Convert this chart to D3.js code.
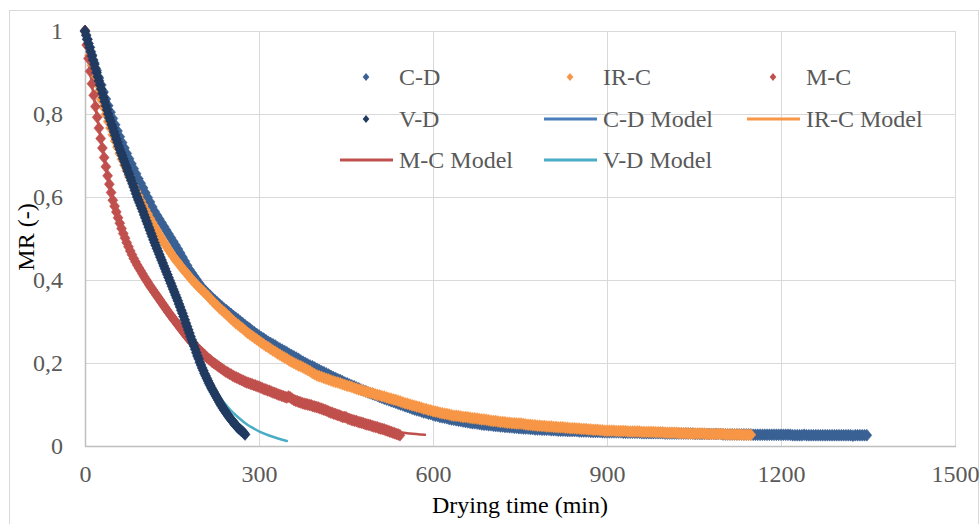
<!DOCTYPE html>
<html><head><meta charset="utf-8">
<script src="https://cdn.jsdelivr.net/npm/d3@7"></script>
<style>
body{margin:0;background:#fff;}
svg{display:block;}
text{font-family:"Liberation Serif","Times New Roman",serif;}
</style>
</head><body>
<svg id="chart" width="980" height="524"></svg>
<script>
// ---------- data ----------
const xTicks = [0, 300, 600, 900, 1200, 1500];
const yTicks = [0, 0.2, 0.4, 0.6, 0.8, 1];
const yTickLabels = ["0", "0,2", "0,4", "0,6", "0,8", "1"];
const xTitle = "Drying time (min)";
const yTitle = "MR (-)";

// C-D experimental: one reading every cdStep minutes from t = 0
const cdStep = 4;
const cdMR = [
1.000,0.980,0.961,0.942,0.923,0.905,0.887,0.870,0.853,0.836,
0.820,0.804,0.789,0.774,0.759,0.745,0.731,0.718,0.705,0.692,
0.680,0.668,0.656,0.644,0.633,0.622,0.610,0.599,0.588,0.576,
0.565,0.556,0.547,0.538,0.529,0.520,0.511,0.502,0.493,0.484,
0.475,0.465,0.455,0.445,0.435,0.425,0.417,0.409,0.401,0.393,
0.385,0.379,0.373,0.367,0.362,0.356,0.351,0.346,0.341,0.336,
0.331,0.327,0.322,0.318,0.313,0.309,0.305,0.300,0.296,0.291,
0.287,0.283,0.278,0.274,0.270,0.266,0.262,0.259,0.255,0.251,
0.248,0.245,0.242,0.238,0.235,0.232,0.229,0.226,0.222,0.219,
0.216,0.213,0.210,0.206,0.203,0.200,0.197,0.194,0.192,0.189,
0.186,0.183,0.180,0.178,0.175,0.172,0.169,0.166,0.164,0.161,
0.159,0.156,0.153,0.151,0.148,0.146,0.144,0.141,0.139,0.136,
0.134,0.132,0.129,0.127,0.125,0.123,0.121,0.118,0.116,0.114,
0.112,0.110,0.108,0.106,0.104,0.102,0.100,0.098,0.096,0.094,
0.092,0.090,0.088,0.086,0.085,0.083,0.081,0.080,0.078,0.077,
0.075,0.073,0.072,0.070,0.069,0.068,0.067,0.065,0.064,0.063,
0.062,0.061,0.060,0.059,0.058,0.057,0.056,0.055,0.055,0.054,
0.053,0.052,0.051,0.051,0.050,0.050,0.049,0.048,0.048,0.047,
0.047,0.046,0.046,0.045,0.045,0.044,0.044,0.043,0.043,0.042,
0.042,0.042,0.041,0.041,0.040,0.040,0.040,0.039,0.039,0.039,
0.039,0.038,0.038,0.038,0.037,0.037,0.037,0.037,0.036,0.036,
0.036,0.036,0.036,0.035,0.035,0.035,0.035,0.035,0.034,0.034,
0.034,0.034,0.034,0.033,0.033,0.033,0.033,0.033,0.033,0.033,
0.033,0.033,0.032,0.032,0.032,0.032,0.032,0.032,0.032,0.032,
0.031,0.031,0.031,0.031,0.031,0.031,0.031,0.031,0.031,0.031,
0.030,0.030,0.030,0.030,0.030,0.030,0.030,0.030,0.030,0.030,
0.030,0.030,0.030,0.029,0.029,0.029,0.029,0.029,0.029,0.029,
0.029,0.029,0.029,0.029,0.029,0.028,0.028,0.028,0.028,0.028,
0.028,0.028,0.028,0.028,0.028,0.028,0.028,0.028,0.027,0.027,
0.027,0.027,0.027,0.027,0.027,0.027,0.027,0.027,0.027,0.027,
0.027,0.027,0.027,0.027,0.027,0.026,0.026,0.026,0.026,0.026,
0.027,0.026,0.026,0.026,0.026,0.026,0.026,0.026,0.026,0.026,
0.026,0.026,0.026,0.026,0.026,0.026,0.026,0.026,0.026,0.026,
0.026,0.025,0.026,0.026,0.026,0.026,0.026,0.026];

// IR-C experimental
const ircStep = 4;
const ircMR = [
1.000,0.967,0.941,0.917,0.895,0.874,0.854,0.835,0.817,0.799,
0.782,0.766,0.750,0.735,0.720,0.705,0.691,0.677,0.664,0.651,
0.639,0.626,0.614,0.603,0.591,0.580,0.569,0.559,0.548,0.538,
0.528,0.519,0.509,0.500,0.491,0.482,0.473,0.465,0.457,0.449,
0.443,0.435,0.428,0.421,0.415,0.408,0.401,0.395,0.389,0.383,
0.378,0.372,0.367,0.361,0.355,0.349,0.343,0.338,0.332,0.327,
0.322,0.317,0.312,0.306,0.301,0.296,0.292,0.287,0.283,0.278,
0.273,0.269,0.265,0.261,0.257,0.253,0.249,0.245,0.241,0.238,
0.234,0.230,0.227,0.223,0.220,0.216,0.213,0.210,0.206,0.203,
0.200,0.197,0.194,0.192,0.189,0.186,0.183,0.180,0.176,0.173,
0.170,0.168,0.166,0.164,0.162,0.160,0.158,0.156,0.154,0.153,
0.151,0.149,0.147,0.145,0.144,0.142,0.140,0.138,0.136,0.135,
0.133,0.131,0.130,0.128,0.127,0.125,0.123,0.122,0.120,0.119,
0.117,0.115,0.114,0.112,0.111,0.109,0.107,0.105,0.103,0.102,
0.100,0.098,0.097,0.095,0.094,0.092,0.090,0.089,0.087,0.086,
0.084,0.083,0.082,0.080,0.079,0.078,0.077,0.076,0.074,0.073,
0.073,0.072,0.071,0.070,0.070,0.069,0.068,0.067,0.067,0.066,
0.065,0.064,0.064,0.063,0.062,0.061,0.060,0.060,0.059,0.058,
0.058,0.057,0.056,0.056,0.055,0.055,0.054,0.054,0.054,0.053,
0.052,0.051,0.051,0.050,0.050,0.049,0.049,0.048,0.048,0.047,
0.047,0.047,0.046,0.046,0.045,0.045,0.045,0.044,0.044,0.043,
0.043,0.043,0.042,0.042,0.041,0.041,0.041,0.040,0.040,0.039,
0.039,0.039,0.038,0.038,0.037,0.037,0.037,0.037,0.037,0.036,
0.036,0.036,0.036,0.036,0.035,0.035,0.035,0.035,0.035,0.035,
0.034,0.034,0.034,0.034,0.034,0.034,0.033,0.033,0.033,0.033,
0.032,0.032,0.032,0.032,0.032,0.032,0.031,0.031,0.031,0.031,
0.030,0.030,0.030,0.030,0.030,0.030,0.030,0.030,0.029,0.029,
0.029,0.029,0.029,0.029,0.029,0.029,0.028,0.028,0.028,0.028,
0.028,0.028,0.028,0.027,0.027,0.027,0.027,0.027];

// M-C experimental
const mcStep = 3;
const mcMR = [
1.000,0.966,0.934,0.903,0.873,0.845,0.818,0.792,0.766,0.741,
0.718,0.695,0.673,0.651,0.631,0.611,0.592,0.578,0.564,0.550,
0.537,0.524,0.512,0.501,0.490,0.480,0.470,0.461,0.452,0.444,
0.436,0.429,0.422,0.415,0.408,0.401,0.395,0.388,0.382,0.376,
0.370,0.364,0.358,0.352,0.346,0.340,0.334,0.328,0.322,0.316,
0.311,0.305,0.300,0.294,0.289,0.283,0.278,0.272,0.267,0.262,
0.257,0.252,0.248,0.243,0.239,0.234,0.230,0.226,0.222,0.218,
0.214,0.210,0.207,0.203,0.200,0.197,0.194,0.191,0.188,0.185,
0.182,0.179,0.177,0.174,0.172,0.169,0.167,0.165,0.163,0.161,
0.159,0.157,0.155,0.153,0.152,0.150,0.149,0.147,0.146,0.144,
0.143,0.141,0.139,0.137,0.136,0.134,0.133,0.131,0.129,0.128,
0.126,0.124,0.123,0.121,0.120,0.118,0.117,0.119,0.117,0.114,
0.111,0.109,0.108,0.106,0.105,0.103,0.102,0.101,0.100,0.099,
0.098,0.096,0.095,0.094,0.093,0.091,0.090,0.088,0.087,0.085,
0.083,0.081,0.080,0.078,0.077,0.075,0.074,0.072,0.070,0.070,
0.069,0.066,0.065,0.063,0.062,0.061,0.060,0.058,0.057,0.056,
0.055,0.053,0.052,0.051,0.050,0.048,0.047,0.046,0.045,0.043,
0.042,0.041,0.040,0.038,0.037,0.035,0.034,0.032,0.031,0.029,
0.028,0.026];

// V-D experimental
const vdStep = 2;
const vdMR = [
1.000,0.990,0.980,0.970,0.960,0.950,0.940,0.930,0.920,0.910,
0.900,0.890,0.880,0.870,0.860,0.850,0.840,0.830,0.820,0.810,
0.800,0.791,0.783,0.774,0.766,0.757,0.749,0.740,0.732,0.723,
0.715,0.707,0.700,0.692,0.685,0.677,0.670,0.662,0.655,0.647,
0.640,0.632,0.624,0.616,0.608,0.600,0.593,0.586,0.579,0.572,
0.565,0.557,0.550,0.542,0.535,0.527,0.520,0.512,0.505,0.497,
0.490,0.483,0.476,0.469,0.462,0.455,0.448,0.441,0.434,0.427,
0.420,0.413,0.406,0.399,0.392,0.385,0.378,0.371,0.364,0.357,
0.350,0.342,0.335,0.327,0.320,0.312,0.304,0.296,0.288,0.280,
0.272,0.264,0.256,0.249,0.241,0.233,0.225,0.217,0.210,0.202,
0.195,0.188,0.182,0.175,0.169,0.163,0.157,0.151,0.146,0.140,
0.135,0.130,0.125,0.120,0.115,0.110,0.105,0.100,0.096,0.091,
0.087,0.083,0.079,0.075,0.071,0.067,0.064,0.060,0.057,0.053,
0.050,0.047,0.044,0.041,0.039,0.036,0.034,0.031,0.028];

// model curves [time (min), MR]
const cdModel = [[0,1],[25,0.883],[50,0.781],[75,0.695],[100,0.622],[150,0.497],[200,0.385],[250,0.320],[300,0.266],[400,0.186],[500,0.123],[600,0.075],[700,0.050],[800,0.039],[900,0.033],[1000,0.030],[1100,0.028],[1200,0.027],[1348,0.026]];
const ircModel = [[0,1],[25,0.850],[50,0.742],[75,0.654],[100,0.580],[150,0.461],[200,0.378],[250,0.309],[300,0.253],[400,0.170],[500,0.125],[600,0.084],[700,0.061],[800,0.047],[900,0.037],[1000,0.032],[1100,0.028],[1148,0.027]];
const mcModel = [[0,1],[10,0.89],[20,0.80],[30,0.718],[40,0.645],[50,0.583],[60,0.538],[75,0.481],[90,0.436],[120,0.370],[150,0.311],[180,0.257],[210,0.214],[240,0.182],[270,0.159],[300,0.143],[350,0.115],[400,0.094],[450,0.069],[500,0.048],[520,0.040],[543,0.033],[560,0.030],[586,0.027]];
const vdModel = [[0,1],[20,0.90],[40,0.80],[60,0.715],[80,0.64],[100,0.565],[120,0.49],[140,0.42],[160,0.35],[180,0.272],[200,0.197],[210,0.168],[220,0.145],[230,0.123],[240,0.104],[250,0.088],[260,0.074],[270,0.062],[280,0.051],[290,0.043],[300,0.035],[320,0.024],[340,0.015],[348,0.012]];

const legendLabels = ["C-D","IR-C","M-C","V-D","C-D Model","IR-C Model","M-C Model","V-D Model"];

// ---------- styles ----------
const colors = {cd:"#3A6194", irc:"#F79646", mc:"#C0504D", vd:"#203A60",
                cdM:"#4A7EBB", ircM:"#F79646", mcM:"#C0504D", vdM:"#4BACC6"};

const svg = d3.select("#chart");
const x = d3.scaleLinear().domain([0,1500]).range([85,955]);
const y = d3.scaleLinear().domain([0,1]).range([446,31]);

// outer chart border
svg.append("rect").attr("x",9.5).attr("y",10.5).attr("width",969).attr("height",540)
  .attr("fill","#fff").attr("stroke","#D9D9D9").attr("stroke-width",1);

// gridlines
const grid = svg.append("g");
grid.selectAll(".hg").data(yTicks.filter(d=>d>0)).join("line")
  .attr("x1",x(0)).attr("x2",x(1500))
  .attr("y1",d=>Math.round(y(d))+0.5).attr("y2",d=>Math.round(y(d))+0.5)
  .attr("stroke","#D9D9D9").attr("stroke-width",1);
grid.selectAll(".vg").data(xTicks.filter(d=>d>0)).join("line")
  .attr("y1",y(0)).attr("y2",y(1))
  .attr("x1",d=>Math.round(x(d))+0.5).attr("x2",d=>Math.round(x(d))+0.5)
  .attr("stroke","#D9D9D9").attr("stroke-width",1);
// axis lines
svg.append("line").attr("x1",x(0)+0.5).attr("x2",x(0)+0.5).attr("y1",y(1)).attr("y2",y(0)+1)
  .attr("stroke","#BFBFBF").attr("stroke-width",1.5);
svg.append("line").attr("x1",x(0)).attr("x2",x(1500)+1).attr("y1",y(0)+0.5).attr("y2",y(0)+0.5)
  .attr("stroke","#BFBFBF").attr("stroke-width",1.5);

// tick labels via d3 axes
const yAxis = d3.axisLeft(y).tickValues(yTicks).tickFormat((d,i)=>yTickLabels[i]).tickSize(0).tickPadding(22);
const gy = svg.append("g").attr("transform",`translate(${x(0)},0)`).call(yAxis);
const xAxis = d3.axisBottom(x).tickValues(xTicks).tickFormat(d=>String(d)).tickSize(0).tickPadding(19);
const gx = svg.append("g").attr("transform",`translate(0,${y(0)})`).call(xAxis);
[gx,gy].forEach(g=>{
  g.select(".domain").remove();
  g.selectAll("text").attr("fill","#595959").style("font-size","24px")
   .style("font-family",'"Liberation Serif","Times New Roman",serif');
});

// axis titles
svg.append("text").attr("x",520).attr("y",513).attr("text-anchor","middle")
  .style("font-size","24px").attr("fill","#000").text(xTitle);
svg.append("text").attr("transform","translate(34,237) rotate(-90)").attr("text-anchor","middle")
  .style("font-size","24px").attr("fill","#000").text(yTitle);

// model lines (drawn under the markers)
const line = d3.line().x(d=>x(d[0])).y(d=>y(d[1])).curve(d3.curveMonotoneX);
const models = [[cdModel,colors.cdM],[ircModel,colors.ircM],[mcModel,colors.mcM],[vdModel,colors.vdM]];
svg.append("g").selectAll("path").data(models).join("path")
  .attr("d",d=>line(d[0])).attr("fill","none").attr("stroke",d=>d[1])
  .attr("stroke-width",2.5).attr("stroke-linecap","round");

// markers
const diamond = "M0,-6L5,0L0,6L-5,0Z";
const seriesList = [[cdMR,cdStep,colors.cd],[ircMR,ircStep,colors.irc],[mcMR,mcStep,colors.mc],[vdMR,vdStep,colors.vd]];
seriesList.forEach(([vals,step,col])=>{
  svg.append("g").selectAll("path").data(vals).join("path")
    .attr("d",diamond)
    .attr("transform",(d,i)=>`translate(${x(i*step)},${y(d)})`)
    .attr("fill",col).attr("stroke",col).attr("stroke-width",0.5);
});

// legend
const legendColors = [colors.cd,colors.irc,colors.mc,colors.vd,colors.cdM,colors.ircM,colors.mcM,colors.vdM];
const legendKinds = ["m","m","m","m","l","l","l","l"];
const colX = [340,544,747];
const rowY = [77,119,160];
const lg = svg.append("g");
legendLabels.forEach((lab,i)=>{
  const cx = colX[i%3], cy = rowY[Math.floor(i/3)];
  if (legendKinds[i]==="m") {
    lg.append("path").attr("d","M0,-4L3.3,0L0,4L-3.3,0Z")
      .attr("transform",`translate(${cx+26},${cy})`).attr("fill",legendColors[i]);
  } else {
    lg.append("line").attr("x1",cx).attr("x2",cx+53).attr("y1",cy).attr("y2",cy)
      .attr("stroke",legendColors[i]).attr("stroke-width",3);
  }
  lg.append("text").attr("x",cx+59).attr("y",cy).attr("dy","0.35em")
    .style("font-size","24px").attr("fill","#595959").text(lab);
});
</script>
</body></html>
